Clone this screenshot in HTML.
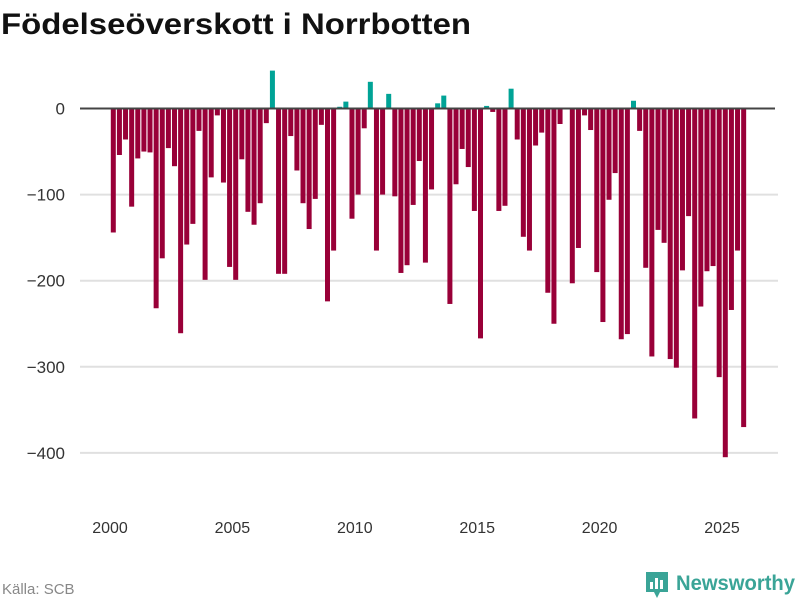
<!DOCTYPE html>
<html><head><meta charset="utf-8"><style>
body{margin:0;background:#fff;width:800px;height:600px;overflow:hidden;font-family:"Liberation Sans",sans-serif}
</style></head><body>
<svg width="800" height="600" xmlns="http://www.w3.org/2000/svg">
<text x="1" y="34" font-size="30" font-weight="bold" fill="#111" textLength="470" lengthAdjust="spacingAndGlyphs">Födelseöverskott i Norrbotten</text>
<g id="grid"></g>
<g id="bars"></g>
<g id="xt"></g>
<text x="2" y="594" font-size="15" fill="#888">Källa: SCB</text>
<g>
<path d="M646 572 h22 v20 h-8 l-3 6 l-3 -6 h-8 z" fill="#3aa497"/>
<rect x="650" y="582" width="3" height="7" fill="#fff"/><rect x="655" y="578" width="3" height="11" fill="#fff"/><rect x="660" y="580" width="3" height="9" fill="#fff"/>
<text x="676" y="590" font-size="21" font-weight="bold" fill="#3aa497" textLength="119" lengthAdjust="spacingAndGlyphs">Newsworthy</text>
</g>
</svg>
<script>
const years=[2000,2001,2002,2003,2004,2005,2006,2007,2008,2009,2010,2011,2012,2013,2014,2015,2016,2017,2018,2019,2020,2021,2022,2023,2024,2025];
const values=[-144,-54,-36,-114, -58,-50,-51,-232, -174,-46,-67,-261, -158,-134,-26,-199, -80,-8,-86,-184,
-199,-59,-120,-135, -110,-17,44,-192, -192,-32,-72,-110, -140,-105,-19,-224, -165,2,8,-128,
-100,-23,31,-165, -100,17,-102,-191, -182,-112,-61,-179, -94,6,15,-227, -88,-47,-68,-119,
-267,3,-4,-119, -113,23,-36,-149, -165,-43,-28,-214, -250,-18,0,-203, -162,-8,-25,-190,
-248,-106,-75,-268, -262,9,-26,-185, -288,-141,-156,-291, -301,-188,-125,-360, -230,-189,-183,-312, -405,-234,-165,-370];
const yTicks=[0,-100,-200,-300,-400];
const xTicks=[2000,2005,2010,2015,2020,2025];
const NS="http://www.w3.org/2000/svg";
const xs=t=>110+(t-2000)*24.48;
const ys=v=>108.5-v*0.861;
const grid=document.getElementById('grid'),bars=document.getElementById('bars'),xt=document.getElementById('xt');
yTicks.forEach(v=>{
 if(v!==0){const l=document.createElementNS(NS,'line');
 l.setAttribute('x1',80);l.setAttribute('x2',778);l.setAttribute('y1',ys(v));l.setAttribute('y2',ys(v));
 l.setAttribute('stroke','#e0e0e0');l.setAttribute('stroke-width',2);
 
 
 grid.appendChild(l);}
 const t=document.createElementNS(NS,'text');
 t.setAttribute('x',65);t.setAttribute('y',ys(v)+6);t.setAttribute('text-anchor','end');
 t.setAttribute('font-size',17);t.setAttribute('fill','#333');
 t.textContent=(v<0?'\u2212':'')+Math.abs(v);
 
 
 grid.appendChild(t);
});
values.forEach((v,i)=>{
 const t=years[Math.floor(i/4)]+(i%4)*0.25;
 const r=document.createElementNS(NS,'rect');
 const x=xs(t)+0.8;
 r.setAttribute('x',x);r.setAttribute('width',5);
 r.setAttribute('y',Math.min(ys(v),ys(0)));r.setAttribute('height',Math.abs(ys(v)-ys(0)));
 r.setAttribute('fill',v>=0?'#00a396':'#990038');
 
 
 bars.appendChild(r);
});
const base=document.createElementNS(NS,'line');
base.setAttribute('x1',80);base.setAttribute('x2',775);base.setAttribute('y1',ys(0));base.setAttribute('y2',ys(0));
base.setAttribute('stroke','#444');base.setAttribute('stroke-width',2);


bars.appendChild(base);
xTicks.forEach(y=>{
 const t=document.createElementNS(NS,'text');
 t.setAttribute('x',xs(y));t.setAttribute('y',533);t.setAttribute('text-anchor','middle');
 t.setAttribute('font-size',16);t.setAttribute('fill','#333');
 t.textContent=y;
 
 
 xt.appendChild(t);
});
</script>
</body></html>
